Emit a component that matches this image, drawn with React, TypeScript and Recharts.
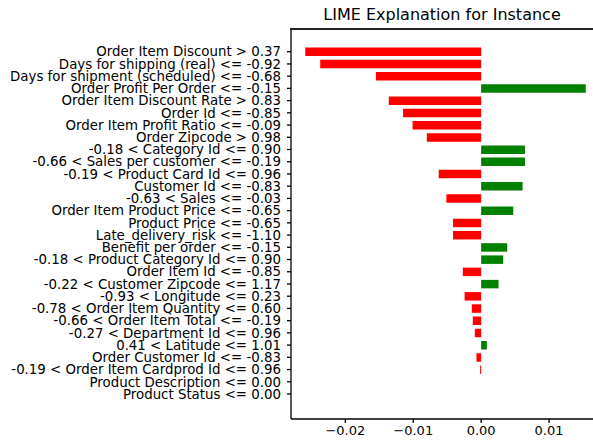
import React from 'react';
import { BarChart, Bar, XAxis, YAxis, Cell } from 'recharts';

// feature conditions, top to bottom
const FEATURES = [
  'Order Item Discount > 0.37',
  'Days for shipping (real) <= -0.92',
  'Days for shipment (scheduled) <= -0.68',
  'Order Profit Per Order <= -0.15',
  'Order Item Discount Rate > 0.83',
  'Order Id <= -0.85',
  'Order Item Profit Ratio <= -0.09',
  'Order Zipcode > 0.98',
  '-0.18 < Category Id <= 0.90',
  '-0.66 < Sales per customer <= -0.19',
  '-0.19 < Product Card Id <= 0.96',
  'Customer Id <= -0.83',
  '-0.63 < Sales <= -0.03',
  'Order Item Product Price <= -0.65',
  'Product Price <= -0.65',
  'Late_delivery_risk <= -1.10',
  'Benefit per order <= -0.15',
  '-0.18 < Product Category Id <= 0.90',
  'Order Item Id <= -0.85',
  '-0.22 < Customer Zipcode <= 1.17',
  '-0.93 < Longitude <= 0.23',
  '-0.78 < Order Item Quantity <= 0.60',
  '-0.66 < Order Item Total <= -0.19',
  '-0.27 < Department Id <= 0.96',
  '0.41 < Latitude <= 1.01',
  'Order Customer Id <= -0.83',
  '-0.19 < Order Item Cardprod Id <= 0.96',
  'Product Description <= 0.00',
  'Product Status <= 0.00',
];

// LIME weights
const WEIGHTS = [
  -0.0259, -0.0237, -0.0155, 0.0154, -0.0136, -0.0115, -0.0101, -0.008,
  0.00645, 0.00645, -0.00625, 0.0061, -0.00512, 0.00473, -0.00414, -0.00414,
  0.00384, 0.00325, -0.0027, 0.00256, -0.00244, -0.00138, -0.00123, -0.00093,
  0.00084, -0.00069, -0.00015, 0, 0,
];

const X_TICKS = [-0.02, -0.01, 0, 0.01];
const X_DOMAIN: [number, number] = [-0.028, 0.0175];

const data = FEATURES.map((name, i) => ({ name, value: WEIGHTS[i] }));

const FONT = '"DejaVu Sans", sans-serif';

// axes box placement
const PLOT_LEFT = 291;
const PLOT_TOP = 29;
const CHART_W = 600;
const CHART_H = 443;

const fmt = (v: number) => {
  const s = Math.abs(v).toFixed(2);
  return v < 0 ? `\u2212${s}` : s;
};

export default function App() {
  return (
    <div
      style={{
        position: 'fixed',
        left: 0,
        top: 0,
        width: 593,
        height: 443,
        overflow: 'hidden',
        background: '#fff',
        fontFamily: FONT,
      }}
    >
      <BarChart
        width={CHART_W}
        height={CHART_H}
        data={data}
        layout="vertical"
        margin={{ top: PLOT_TOP, right: 0, bottom: 0, left: 0 }}
      >
        <XAxis
          type="number"
          domain={X_DOMAIN}
          ticks={X_TICKS}
          allowDataOverflow
          tickFormatter={fmt}
          height={24}
          tickSize={4}
          tickMargin={3}
          stroke="#000"
          strokeWidth={1.3}
          tick={{ fill: '#000', fontSize: 13, fontFamily: FONT }}
        />
        <YAxis
          type="category"
          dataKey="name"
          width={PLOT_LEFT}
          interval={0}
          padding={{ top: 16.6, bottom: 18.9 }}
          tickSize={4}
          tickMargin={6}
          stroke="#000"
          strokeWidth={1.3}
          tick={{ fill: '#000', fontSize: 13.35, fontFamily: FONT }}
        />
        <Bar dataKey="value" barSize={8.5} isAnimationActive={false}>
          {data.map((d, i) => (
            <Cell key={`cell-${i}`} fill={d.value > 0 ? '#008000' : '#ff0000'} />
          ))}
        </Bar>
      </BarChart>
      {/* Title */}
      <div
        style={{
          position: 'absolute',
          zIndex: 2,
          left: PLOT_LEFT,
          width: 302,
          top: 5,
          textAlign: 'center',
          fontSize: 16,
          lineHeight: '20px',
          color: '#000',
          whiteSpace: 'nowrap',
        }}
      >
        LIME Explanation for Instance
      </div>
      {/* top spine of the axes box */}
      <div
        style={{
          position: 'absolute',
          zIndex: 2,
          left: PLOT_LEFT - 1,
          top: PLOT_TOP - 1,
          width: CHART_W - PLOT_LEFT,
          height: 2,
          background: '#222',
        }}
      />
    </div>
  );
}
